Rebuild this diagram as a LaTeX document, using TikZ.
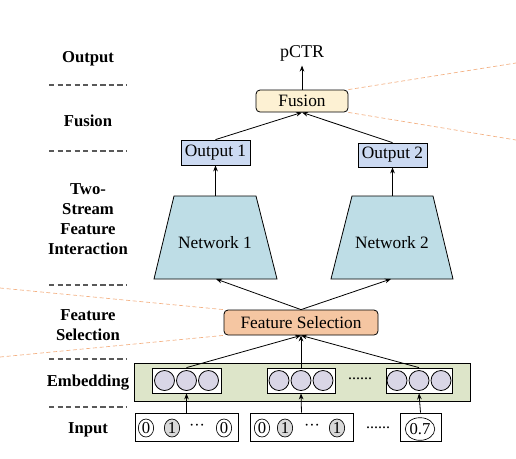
\documentclass[tikz,border=0pt]{standalone}
\usepackage{fontspec}
\setmainfont{Liberation Serif}
\usetikzlibrary{shapes.geometric,arrows.meta}
\definecolor{fusionc}{HTML}{FDF1D3}
\definecolor{outc}{HTML}{CCDAF2}
\definecolor{netc}{HTML}{BEDDE6}
\definecolor{fsc}{HTML}{F5C6A2}
\definecolor{embc}{HTML}{DDE5C9}
\definecolor{embdot}{HTML}{D9D6E6}
\definecolor{graydot}{HTML}{D9D9D9}
\definecolor{orangedash}{HTML}{F4B183}
\tikzset{
  box/.style={draw, line width=0.6pt, inner sep=0pt, font=\fontsize{13}{14}\selectfont},
  rbox/.style={box, rounded corners=3pt},
  arr/.style={-{Stealth[length=4.5pt,width=3.5pt]}, line width=0.6pt},
  lab/.style={font=\bfseries\fontsize{12.5}{15}\selectfont, align=center},
  sepline/.style={draw=black!65, line width=0.9pt, dash pattern=on 4pt off 2.4pt},
  odash/.style={draw=orangedash, line width=0.5pt, dash pattern=on 3pt off 2pt},
  netshape/.style={draw, fill=netc, line width=0.6pt},
  nettext/.style={inner sep=0pt, font=\fontsize{13}{14}\selectfont},
  ecirc/.style={circle, draw, fill=embdot, minimum size=15pt, inner sep=0pt, line width=0.6pt},
  icirc/.style={ellipse, draw, fill=white, minimum width=11.5pt, minimum height=13.5pt, inner sep=0pt, font=\fontsize{12.5}{13}\selectfont, line width=0.5pt},
  gcirc/.style={icirc, fill=graydot},
  dotsnode/.style={inner sep=0pt, font=\fontsize{12}{14}\selectfont}
}
\begin{document}
\begin{tikzpicture}[x=0.75pt,y=-0.75pt]
\useasboundingbox (0,0) rectangle (516,458);
\fill[white] (0,0) rectangle (516,458);

% left labels
\node[lab] (lout) at (88,59) {Output};
\node[lab] (lfus) at (88,121) {Fusion};
\node[lab] (lint) at (88,219) {Two-\\Stream\\Feature\\Interaction};
\node[lab] (lfs) at (88,325) {Feature\\Selection};
\node[lab] (lemb) at (88,383) {Embedding};
\node[lab] (lin) at (88,430) {Input};
\foreach \yy in {85,151,285,359,407} \draw[sepline] (49,\yy) -- (127,\yy);

% top
\node[font=\fontsize{13.5}{15}\selectfont] (pctr) at (302,53) {pCTR};
\node[rbox, fill=fusionc, minimum width=69pt, minimum height=16.5pt] (fusion) at (302,101) {Fusion};
\node[box, fill=outc, minimum width=51.75pt, minimum height=18.75pt] (out1) at (215.5,152.5) {Output 1};
\node[box, fill=outc, minimum width=51.75pt, minimum height=18pt] (out2) at (392.5,155) {Output 2};

% networks (trapezoids)
\draw[netshape] (174,196) -- (256,196) -- (277,279) -- (154,279) -- cycle;
\draw[netshape] (352,196) -- (433,196) -- (453,279) -- (331,279) -- cycle;
\coordinate (net1top) at (215.5,196);
\coordinate (net1bot) at (216,279);
\coordinate (net2top) at (392.5,196);
\coordinate (net2bot) at (391,279);
\node[nettext] (net1) at (215,243) {Network 1};
\node[nettext] (net2) at (392,243) {Network 2};

% feature selection
\node[rbox, fill=fsc, minimum width=115.5pt, minimum height=18.75pt] (fs) at (301,322.5) {Feature Selection};

% embedding
\node[box, fill=embc, minimum width=252pt, minimum height=28.5pt] (emb) at (302,382) {};
\node[box, fill=white, minimum width=51.75pt, minimum height=18.75pt] (eb1) at (186.5,380.5) {};
\node[box, fill=white, minimum width=51pt, minimum height=18.75pt] (eb2) at (301,380.5) {};
\node[box, fill=white, minimum width=49.5pt, minimum height=18.75pt] (eb3) at (419,380.5) {};
\foreach \n/\cx in {1/186.5,2/301,3/419} {
  \node[ecirc] (e\n a) at (\cx-22,380.5) {};
  \node[ecirc] (e\n b) at (\cx,380.5) {};
  \node[ecirc] (e\n c) at (\cx+22,380.5) {};
}
\node[dotsnode] (edots) at (360,379) {......};

% input
\node[box, fill=white, minimum width=77.25pt, minimum height=21pt] (in1) at (186.5,427) {};
\node[box, fill=white, minimum width=77.25pt, minimum height=21pt] (in2) at (301.5,427) {};
\node[box, fill=white, minimum width=30.75pt, minimum height=21pt] (in3) at (420.5,427) {};
\node[icirc] (i1a) at (146,428) {0};
\node[gcirc] (i1b) at (172,428) {1};
\node[dotsnode] (i1d) at (197,427) {···};
\node[icirc] (i1c) at (224,428) {0};
\node[icirc] (i2a) at (262,428) {0};
\node[gcirc] (i2b) at (285,428) {1};
\node[dotsnode] (i2d) at (312,427) {···};
\node[gcirc] (i2c) at (337,428) {1};
\node[icirc, minimum width=17pt, minimum height=17pt] (i3a) at (420,429) {0.7};
\node[dotsnode] (idots) at (378,428) {......};

% connectors
\draw[arr] (in1.north) -- (eb1.south);
\draw[arr] (in2.north) -- (eb2.south);
\draw[arr] (in3.north) -- (eb3.south);
\draw[arr] (eb1.north) -- (fs.south);
\draw[arr] (eb2.north) -- (fs.south);
\draw[arr] (eb3.north) -- (fs.south);
\draw[arr] (fs.north) -- (net1bot);
\draw[arr] (fs.north) -- (net2bot);
\draw[arr] (net1top) -- (out1.south);
\draw[arr] (net2top) -- (out2.south);
\draw[arr] (out1.north) -- (fusion.south);
\draw[arr] (out2.north) -- (fusion.south);
\draw[arr] (fusion.north) -- (pctr.south);

% orange dashed guide lines
\coordinate (oR1) at (516,63);
\coordinate (oR2) at (516,140);
\coordinate (oL1) at (0,288);
\coordinate (oL2) at (0,357);
\draw[odash] (fusion.north east) -- (oR1);
\draw[odash] (fusion.south east) -- (oR2);
\draw[odash] (oL1) -- (fs.north west);
\draw[odash] (oL2) -- (fs.south west);
\end{tikzpicture}
\end{document}
